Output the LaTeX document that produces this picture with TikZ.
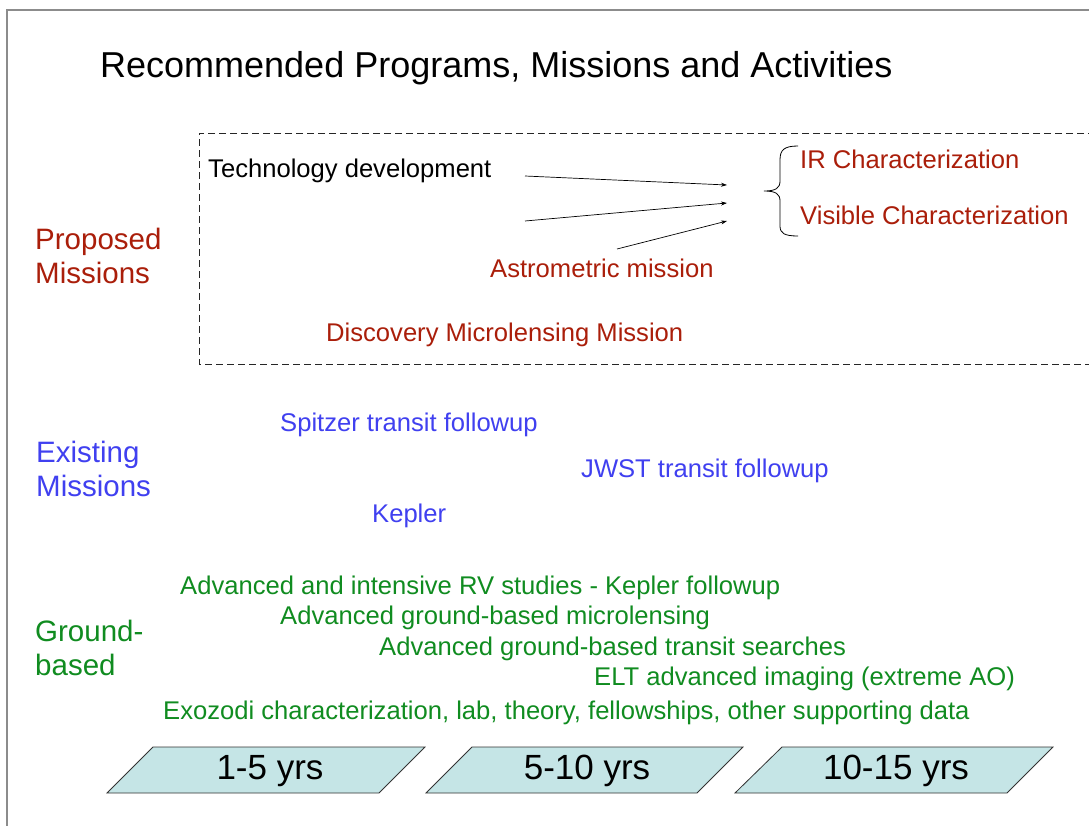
\documentclass[tikz,border=0pt]{standalone}
\usepackage{fontspec}
\setmainfont{Liberation Sans}
\usetikzlibrary{arrows.meta}
\definecolor{pred}{RGB}{170,30,10}
\definecolor{eblue}{RGB}{64,64,240}
\definecolor{ggreen}{RGB}{16,140,32}
\definecolor{yrfill}{RGB}{197,229,230}
\definecolor{framegray}{RGB}{140,140,140}
\tikzset{
  lbl/.style={anchor=base west, inner sep=0pt, font=\fontsize{25.6}{30}\selectfont},
  side/.style={anchor=base west, inner sep=0pt, align=left, font=\fontsize{29.5}{34}\selectfont},
  yrbox/.style={draw=black!80, line width=0.8pt, fill=yrfill},
  yrlbl/.style={inner sep=0pt, font=\fontsize{35}{40}\selectfont},
  arr/.style={-{Stealth[length=6pt,width=4pt]}, line width=0.7pt}
}
\begin{document}
\begin{tikzpicture}[x=1pt,y=-1pt]
\useasboundingbox (0,0) rectangle (1089,825);
\fill[white] (0,0) rectangle (1089,825);
% outer frame
\draw[framegray, line width=1.5pt] (7,830) -- (7,10) -- (1095,10);
% title
\node[anchor=base west, inner sep=0pt, font=\fontsize{36}{40}\selectfont] (title) at (100,77) {Recommended Programs, Missions and Activities};
% dashed box
\draw[black!85, line width=0.8pt, dash pattern=on 7pt off 4pt] (1095,133) -- (199,133) -- (199,364) -- (1095,364);
% proposed missions
\node[side, text=pred] (prop) at (35,283) {Proposed\\Missions};
\node[lbl] (tech) at (208,177) {Technology development};
\node[lbl, text=pred] (ir) at (800,168) {IR Characterization};
\node[lbl, text=pred] (vis) at (800,224) {Visible Characterization};
\node[lbl, text=pred] (astro) at (490,277) {Astrometric mission};
\node[lbl, text=pred] (disc) at (326,341) {Discovery Microlensing Mission};
% arrows
\coordinate (a1s) at (525,176);
\coordinate (a1e) at (727,185);
\coordinate (a2s) at (525,221);
\coordinate (a2e) at (727,203);
\coordinate (a3s) at (617,249);
\coordinate (a3e) at (727,221);
\draw[arr] (a1s) -- (a1e);
\draw[arr] (a2s) -- (a2e);
\draw[arr] (a3s) -- (a3e);
% brace
\draw[line width=0.8pt] (798,146) .. controls (784,146) and (780,150) .. (780,160) -- (780,181)
  .. controls (780,188) and (776,191) .. (764,191)
  .. controls (776,191) and (780,194) .. (780,201) -- (780,226)
  .. controls (780,233) and (784,236) .. (798,236);
% existing missions
\node[side, text=eblue] (exist) at (36,496) {Existing\\Missions};
\node[lbl, text=eblue] (spitzer) at (280,431) {Spitzer transit followup};
\node[lbl, text=eblue] (jwst) at (581,477) {JWST transit followup};
\node[lbl, text=eblue] (kepler) at (372,522) {Kepler};
% ground-based
\node[side, text=ggreen] (ground) at (35,675) {Ground-\\based};
\node[lbl, text=ggreen] (g1) at (180,594) {Advanced and intensive RV studies - Kepler followup};
\node[lbl, text=ggreen] (g2) at (280,624) {Advanced ground-based microlensing};
\node[lbl, text=ggreen] (g3) at (379,655) {Advanced ground-based transit searches};
\node[lbl, text=ggreen] (g4) at (594,685) {ELT advanced imaging (extreme AO)};
\node[lbl, text=ggreen] (g5) at (163,719) {Exozodi characterization, lab, theory, fellowships, other supporting data};
% year parallelograms
\draw[yrbox] (107,793) -- (153,747) -- (425,747) -- (379,793) -- cycle;
\draw[yrbox] (426,793) -- (472,747) -- (743,747) -- (697,793) -- cycle;
\draw[yrbox] (735,793) -- (782,747) -- (1053,747) -- (1007,793) -- cycle;
\node[yrlbl] (y1) at (270,771) {1-5 yrs};
\node[yrlbl] (y2) at (587,771) {5-10 yrs};
\node[yrlbl] (y3) at (896,771) {10-15 yrs};
\end{tikzpicture}
\end{document}
